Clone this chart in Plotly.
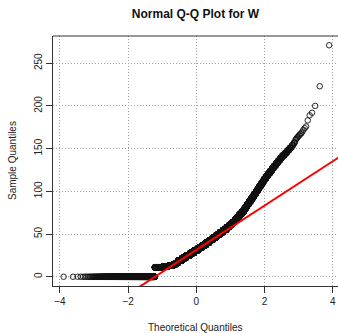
import numpy as np
import plotly.graph_objects as go
from statistics import NormalDist

# Sample W as a frequency table (value, count)
w_levels = [0, 11, 12, 13, 14, 16, 19, 22, 25, 28, 31, 34, 37, 40, 43, 46, 49, 52, 55,
            58, 61, 64, 67, 70, 73, 76, 79, 82, 85, 88, 91, 94, 97, 100, 103, 106, 109,
            112, 115, 118, 121, 124, 127, 130, 133, 136, 139, 142, 145, 148, 151, 154, 157]
w_counts = [1112, 523, 426, 359, 256, 270, 426, 449, 465, 475, 462, 440, 440, 388, 364,
            346, 326, 305, 282, 218, 192, 177, 137, 122, 114, 100, 74, 68, 65, 61, 56, 51,
            46, 41, 37, 35, 31, 28, 29, 26, 23, 21, 18, 17, 15, 13, 11, 12, 9, 7, 6, 4, 3]
# largest individual observations
w_tail = [160, 161, 162, 163, 164, 165, 166, 167, 168, 170, 172, 174, 176, 183, 189,
          192, 200, 223, 271]

x_ticks = [-4, -2, 0, 2, 4]
y_ticks = [0, 50, 100, 150, 200, 250]

sample = np.sort(np.concatenate([np.repeat(w_levels, w_counts), np.array(w_tail)]))
n = len(sample)
nd = NormalDist()
probs = (np.arange(1, n + 1) - 0.5) / n
theo = np.array([nd.inv_cdf(p) for p in probs])

# qqline through the quartiles
q1, q3 = np.quantile(sample, [0.25, 0.75])
z1, z3 = nd.inv_cdf(0.25), nd.inv_cdf(0.75)
slope = (q3 - q1) / (z3 - z1)
intercept = q1 - slope * z1

xr = [-4.202, 4.15]
yr = [-10.84, 281.84]
line_x = np.array([-4.5, 4.5])
line_y = intercept + slope * line_x

fig = go.Figure()
fig.add_trace(go.Scatter(
    x=theo, y=sample, mode="markers",
    marker=dict(symbol="circle-open", size=5.5, color="#111111",
                line=dict(width=0.9, color="#111111")),
    hoverinfo="skip", showlegend=False))
fig.add_trace(go.Scatter(
    x=line_x, y=line_y, mode="lines",
    line=dict(color="#ff0000", width=2), showlegend=False))

font = "Liberation Sans, Arial, Helvetica, sans-serif"
grid = dict(showgrid=True, gridcolor="#a0a0a0", griddash="1px,2px", gridwidth=1)
fig.update_layout(
    width=338, height=333,
    margin=dict(l=53, r=0, t=36, b=47),
    paper_bgcolor="white", plot_bgcolor="white",
    font=dict(family=font, size=10, color="#222222"),
    title=dict(text="<b>Normal Q-Q Plot for W</b>", x=0.5, xref="paper",
               y=1 - 14 / 333, yref="container", yanchor="middle", xanchor="center",
               font=dict(family=font, size=12, color="#111111")),
    xaxis=dict(range=xr, tickvals=x_ticks, ticks="outside", ticklen=6,
               tickcolor="#333333", showline=True, linecolor="#333333", linewidth=1,
               zeroline=False, tickfont=dict(size=10), **grid),
    yaxis=dict(range=yr, tickvals=y_ticks, ticks="outside", ticklen=6,
               tickcolor="#333333", showline=True, linecolor="#333333", linewidth=1,
               zeroline=False, tickangle=-90, tickfont=dict(size=10), **grid),
    shapes=[dict(type="line", xref="paper", yref="paper", x0=0, x1=1, y0=1, y1=1,
                 line=dict(color="#333333", width=1))],
    annotations=[
        dict(text="Theoretical Quantiles", xref="paper", yref="paper", x=0.5,
             y=-41 / 250, showarrow=False, yanchor="middle",
             font=dict(family=font, size=10, color="#222222")),
        dict(text="Sample Quantiles", xref="paper", yref="paper", x=-41 / 285,
             y=0.5, showarrow=False, textangle=-90, xanchor="center",
             font=dict(family=font, size=10, color="#222222")),
    ],
)
fig.write_html("out.html")
